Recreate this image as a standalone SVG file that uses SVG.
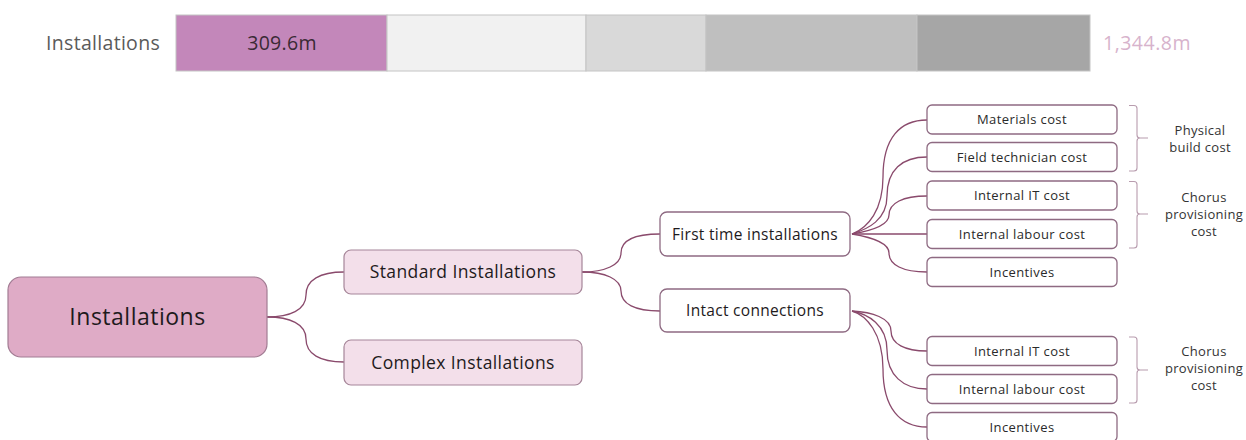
<svg xmlns="http://www.w3.org/2000/svg" width="1246" height="440" viewBox="0 0 1246 440">
  <style>
    text { font-family: "Open Sans", "Liberation Sans", sans-serif; }
    .bar-label { font-size: 19.5px; letter-spacing: 0.3px; fill: #5a5a5a; }
    .bar-value { font-size: 19.5px; letter-spacing: 0.3px; fill: #3a2a35; }
    .bar-total { font-size: 19.5px; letter-spacing: 0.5px; fill: #d7b3cc; }
    .seg { stroke: #c4c4c4; stroke-width: 1; }
    .root rect { fill: #dfabc6; stroke: #a27c93; stroke-width: 1.2; }
    .root text { font-size: 23px; letter-spacing: 0.5px; fill: #1e1a1c; }
    .lvl1 rect { fill: #f3dfea; stroke: #a68699; stroke-width: 1.2; }
    .lvl1 text { font-size: 17.5px; letter-spacing: 0.4px; fill: #1e1a1c; }
    .lvl2 rect { fill: #ffffff; stroke: #8e6a82; stroke-width: 1.3; }
    .lvl2 text { font-size: 15.5px; letter-spacing: 0.3px; fill: #1e1a1c; }
    .leaf rect { fill: #ffffff; stroke: #8e6a82; stroke-width: 1.3; }
    .leaf text { font-size: 13px; letter-spacing: 0.4px; fill: #2a2a2a; }
    .links path { fill: none; stroke: #8a4a6c; stroke-width: 1.3; }
    .brace { fill: none; stroke: #b89cae; stroke-width: 1.1; }
    .note { font-size: 13px; letter-spacing: 0.3px; fill: #333333; }
  </style>

  <!-- stacked value bar -->
  <g id="value-bar">
    <text class="bar-label" x="160" y="50" text-anchor="end">Installations</text>
    <rect class="seg" x="176" y="15" width="211" height="56" fill="#c387ba"/>
    <rect class="seg" x="387" y="15" width="199" height="56" fill="#f1f1f1"/>
    <rect class="seg" x="586" y="15" width="120" height="56" fill="#d9d9d9"/>
    <rect class="seg" x="706" y="15" width="211" height="56" fill="#bfbfbf"/>
    <rect class="seg" x="917" y="15" width="173" height="56" fill="#a6a6a6"/>
    <text class="bar-value" x="282" y="50" text-anchor="middle">309.6m</text>
    <text class="bar-total" x="1103" y="50">1,344.8m</text>
  </g>

  <!-- connectors -->
  <g id="connectors" class="links">
    <path d="M267,317 C290,317 306,310 306,295 C306,280 320,272 344,272"/>
    <path d="M267,317 C290,317 306,324 306,339 C306,354 320,362 344,362"/>
    <path d="M582,272 C605,272 621,265 621,253 C621,240 635,234 660,234"/>
    <path d="M582,272 C605,272 621,279 621,291 C621,304 635,311 660,311"/>
    <!-- first time installations -> cost items -->
    <path d="M852,234 C868,228 883,210 883,177 C883,138 900,120 927,120"/>
    <path d="M852,234 C868,229 887,220 887,196 C887,170 902,157 927,157"/>
    <path d="M852,234 C870,231 889,226 889,215 C889,203 903,196 927,196"/>
    <path d="M852,234 L927,234"/>
    <path d="M852,234 C870,237 889,242 889,253 C889,265 903,272 927,272"/>
    <!-- intact connections -> cost items -->
    <path d="M852,311 C872,312 891,318 891,331 C891,344 905,351 927,351"/>
    <path d="M852,311 C868,314 887,325 887,350 C887,375 903,389 927,389"/>
    <path d="M852,311 C866,315 883,333 883,369 C883,408 900,427 927,427"/>
  </g>

  <g id="node-installations" class="root">
    <rect x="8" y="277" width="259" height="80" rx="13"/>
    <text x="137.5" y="325" text-anchor="middle">Installations</text>
  </g>

  <g id="node-standard" class="lvl1">
    <rect x="344" y="250" width="238" height="44" rx="7"/>
    <text x="463" y="278" text-anchor="middle">Standard Installations</text>
  </g>
  <g id="node-complex" class="lvl1">
    <rect x="344" y="340" width="238" height="45" rx="7"/>
    <text x="463" y="368.5" text-anchor="middle">Complex Installations</text>
  </g>

  <g id="node-first-time" class="lvl2">
    <rect x="660" y="212" width="190" height="44" rx="7"/>
    <text x="755" y="239.5" text-anchor="middle">First time installations</text>
  </g>
  <g id="node-intact" class="lvl2">
    <rect x="660" y="289" width="190" height="43" rx="7"/>
    <text x="755" y="316" text-anchor="middle">Intact connections</text>
  </g>

  <g id="leaf-materials" class="leaf">
    <rect x="927" y="105" width="190" height="29" rx="5"/>
    <text x="1022" y="124" text-anchor="middle">Materials cost</text>
  </g>
  <g id="leaf-field-tech" class="leaf">
    <rect x="927" y="142.5" width="190" height="29" rx="5"/>
    <text x="1022" y="161.5" text-anchor="middle">Field technician cost</text>
  </g>
  <g id="leaf-it-1" class="leaf">
    <rect x="927" y="181" width="190" height="29" rx="5"/>
    <text x="1022" y="200" text-anchor="middle">Internal IT cost</text>
  </g>
  <g id="leaf-labour-1" class="leaf">
    <rect x="927" y="219.5" width="190" height="29" rx="5"/>
    <text x="1022" y="238.5" text-anchor="middle">Internal labour cost</text>
  </g>
  <g id="leaf-incentives-1" class="leaf">
    <rect x="927" y="257.5" width="190" height="29" rx="5"/>
    <text x="1022" y="276.5" text-anchor="middle">Incentives</text>
  </g>
  <g id="leaf-it-2" class="leaf">
    <rect x="927" y="336.5" width="190" height="29" rx="5"/>
    <text x="1022" y="355.5" text-anchor="middle">Internal IT cost</text>
  </g>
  <g id="leaf-labour-2" class="leaf">
    <rect x="927" y="374.5" width="190" height="29" rx="5"/>
    <text x="1022" y="393.5" text-anchor="middle">Internal labour cost</text>
  </g>
  <g id="leaf-incentives-2" class="leaf">
    <rect x="927" y="412.5" width="190" height="29" rx="5"/>
    <text x="1022" y="431.5" text-anchor="middle">Incentives</text>
  </g>

  <!-- grouping braces with their captions -->
  <g id="group-physical">
    <path class="brace" d="M1129,105.5 H1134 Q1137,105.5 1137,108.5 V135 Q1137,138 1140,138 H1148 M1140,138 Q1137,138 1137,141 V168 Q1137,171 1134,171 H1129"/>
    <text class="note" x="1200" y="135" text-anchor="middle">Physical</text>
    <text class="note" x="1200" y="152" text-anchor="middle">build cost</text>
  </g>
  <g id="group-chorus-1">
    <path class="brace" d="M1129,181.5 H1134 Q1137,181.5 1137,184.5 V211 Q1137,214 1140,214 H1148 M1140,214 Q1137,214 1137,217 V245 Q1137,248 1134,248 H1129"/>
    <text class="note" x="1204" y="202" text-anchor="middle">Chorus</text>
    <text class="note" x="1204" y="219" text-anchor="middle">provisioning</text>
    <text class="note" x="1204" y="236" text-anchor="middle">cost</text>
  </g>
  <g id="group-chorus-2">
    <path class="brace" d="M1129,337 H1134 Q1137,337 1137,340 V367 Q1137,370 1140,370 H1148 M1140,370 Q1137,370 1137,373 V400 Q1137,403 1134,403 H1129"/>
    <text class="note" x="1204" y="356" text-anchor="middle">Chorus</text>
    <text class="note" x="1204" y="373" text-anchor="middle">provisioning</text>
    <text class="note" x="1204" y="390" text-anchor="middle">cost</text>
  </g>
</svg>
